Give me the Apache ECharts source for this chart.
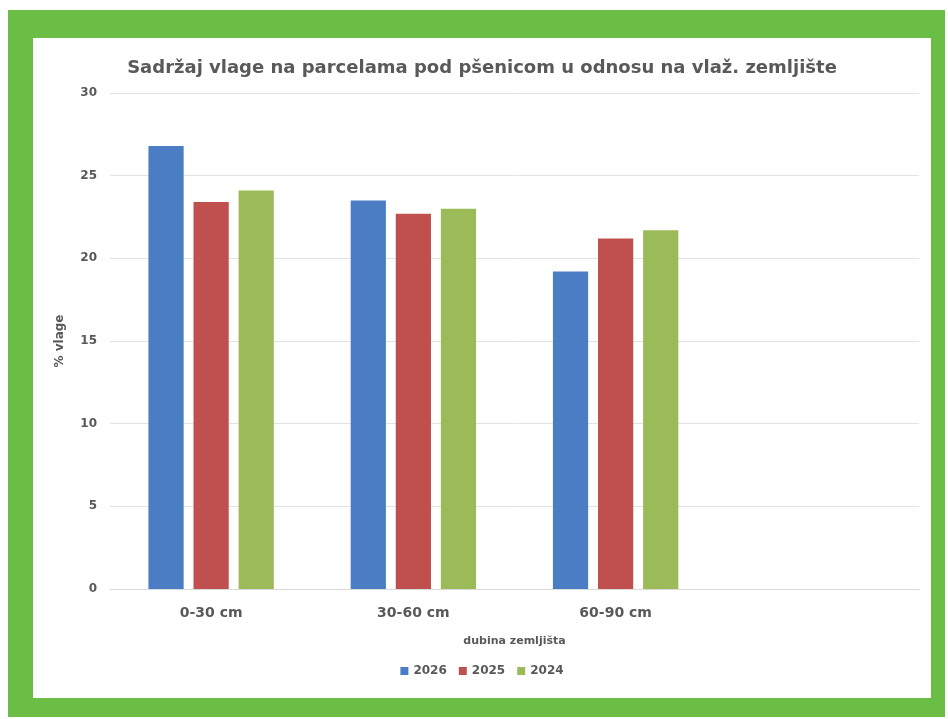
<!DOCTYPE html>
<html>
<head>
<meta charset="utf-8">
<script src="https://cdn.jsdelivr.net/npm/echarts@6/dist/echarts.min.js"></script>
<style>
  body { margin: 0; background: #fff; }
  .frame { position: absolute; left: 8px; top: 10px; width: 937px; height: 707px; background: #6abd45; }
  #chart { position: absolute; left: 33px; top: 38px; width: 898px; height: 660px; background: #fff; }
</style>
</head>
<body>
<div class="frame"></div>
<div id="chart"></div>
<script>
// podaci
const categories = ['0-30 cm', '30-60 cm', '60-90 cm', '']
const years = ['2026', '2025', '2024']
const v2026 = [26.8, 23.5, 19.2, null]
const v2025 = [23.4, 22.7, 21.2, null]
const v2024 = [24.1, 23.0, 21.7, null]
const colors = ['#4a7dc4', '#c0504d', '#9bbb59']

const labelColor = '#595959'
const font = 'DejaVu Sans'
const chart = echarts.init(document.getElementById('chart'))

function bar(name, data, i) {
  return {
    name: name,
    type: 'bar',
    data: data,
    barGap: '28%',
    barCategoryGap: '38%',
    itemStyle: { color: colors[i] }
  }
}

chart.setOption({
  animation: false,
  title: {
    text: 'Sadržaj vlage na parcelama pod pšenicom u odnosu na vlaž. zemljište',
    left: 'center',
    top: 16,
    textStyle: { color: labelColor, fontSize: 18, fontWeight: 'bold', fontFamily: font }
  },
  legend: {
    data: years,
    bottom: 16,
    left: 'center',
    icon: 'rect',
    itemWidth: 8,
    itemHeight: 8,
    itemGap: 12,
    textStyle: { color: labelColor, fontSize: 12, fontWeight: 'bold', fontFamily: font }
  },
  grid: {
    left: 77,
    right: 12,
    top: 55,
    bottom: 109
  },
  xAxis: {
    type: 'category',
    data: categories,
    name: 'dubina zemljišta',
    nameLocation: 'middle',
    nameGap: 47,
    nameTextStyle: { color: labelColor, fontSize: 11, fontWeight: 'bold', fontFamily: font },
    axisLine: { lineStyle: { color: '#d9d9d9' } },
    axisTick: { show: false },
    axisLabel: { color: labelColor, fontSize: 14, fontWeight: 'bold', margin: 17, fontFamily: font }
  },
  yAxis: {
    type: 'value',
    min: 0,
    max: 30,
    interval: 5,
    name: '% vlage',
    nameLocation: 'middle',
    nameGap: 44,
    nameTextStyle: { color: labelColor, fontSize: 12, fontWeight: 'bold', fontFamily: font },
    axisLine: { show: false },
    axisTick: { show: false },
    axisLabel: { color: labelColor, fontSize: 12, fontWeight: 'bold', margin: 13, fontFamily: font },
    splitLine: { lineStyle: { color: '#e3e3e3' } }
  },
  series: [
    bar(years[0], v2026, 0),
    bar(years[1], v2025, 1),
    bar(years[2], v2024, 2)
  ]
})
</script>
</body>
</html>
